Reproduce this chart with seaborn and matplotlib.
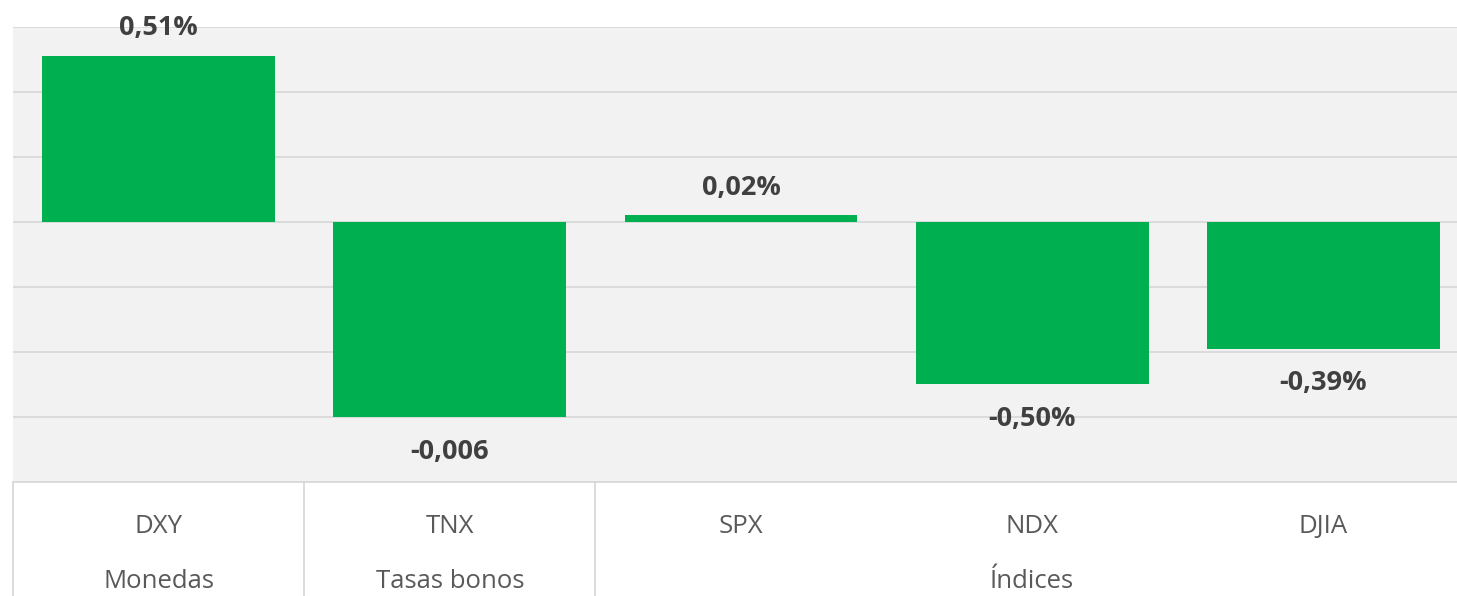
import numpy as np
import matplotlib
matplotlib.use('Agg')
import matplotlib.pyplot as plt
import pandas as pd
import seaborn as sns

# chart values
tickers = ['DXY', 'TNX', 'SPX', 'NDX', 'DJIA']
changes = [0.51, -0.60, 0.02, -0.50, -0.39]
value_labels = ['0,51%', '-0,006', '0,02%', '-0,50%', '-0,39%']
groups = ['Monedas', 'Tasas bonos', 'Índices']
group_spans = [(0, 0), (1, 1), (2, 4)]
grid_ticks = [-0.8, -0.6, -0.4, -0.2, 0.0, 0.2, 0.4, 0.6]

sns.set_theme(style='white')
plt.rcParams['font.family'] = ['Open Sans', 'DejaVu Sans']

df = pd.DataFrame({'ticker': tickers, 'change': changes})

W, H = 1457, 596
fig = plt.figure(figsize=(W / 100, H / 100), dpi=100)
fig.patch.set_facecolor('white')
ax = fig.add_axes([13 / W, 114 / H, 1456 / W, 455 / H])

sns.barplot(data=df, x='ticker', y='change', color='#00b050', saturation=1,
            width=0.8, linewidth=0, ax=ax)

ax.set_xlim(-0.5, 4.5)
ax.set_ylim(-0.8, 0.6)
ax.set_facecolor('#f2f2f2')
ax.set_axisbelow(True)
ax.set_yticks(grid_ticks)
ax.yaxis.grid(True, color='#d9d9d9', linewidth=1.3)
ax.tick_params(left=False, labelleft=False, bottom=False, labelbottom=False)
ax.set_xlabel('')
ax.set_ylabel('')
for side in ['top', 'right', 'left']:
    ax.spines[side].set_visible(False)
ax.spines['bottom'].set_color('#d9d9d9')
ax.spines['bottom'].set_linewidth(1.3)

# data labels above / below the bars
for patch, lab in zip(ax.patches, value_labels):
    xc = patch.get_x() + patch.get_width() / 2
    end = patch.get_y() + patch.get_height()
    off = 15 if patch.get_height() >= 0 else -30
    ax.annotate(lab, (xc, end), xytext=(0, off), textcoords='offset points',
                ha='center', va='baseline', fontsize=19.5, fontweight='bold',
                color='#404040', annotation_clip=False)

# two-level category axis
trans = ax.get_xaxis_transform()
for i, t in enumerate(tickers):
    ax.text(i, -0.112, t, transform=trans, ha='center', va='baseline',
            fontsize=18.5, color='#595959')
for g, (a, b) in zip(groups, group_spans):
    ax.text((a + b) / 2, -0.233, g, transform=trans, ha='center', va='baseline',
            fontsize=18.5, color='#595959')
for x in [-0.5, 0.5, 1.5, 4.5]:
    ax.plot([x, x], [0, -0.27], transform=trans, color='#d9d9d9', lw=1.3,
            clip_on=False)

fig.savefig('out.png', dpi=100)
